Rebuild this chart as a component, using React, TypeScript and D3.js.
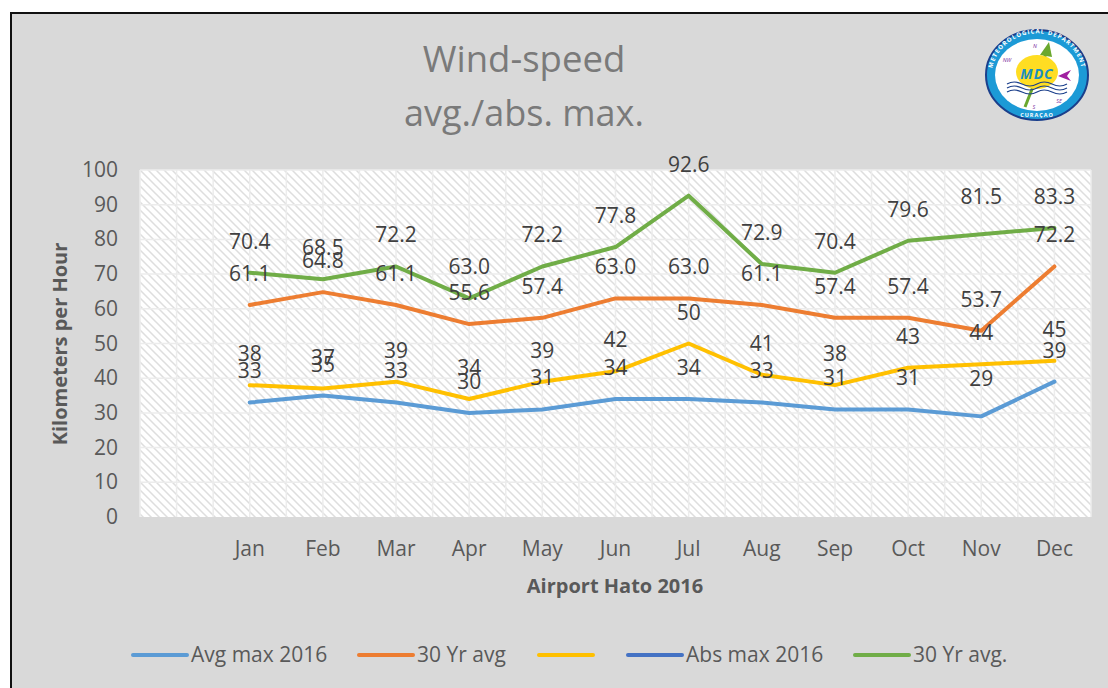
import React from "react";
import * as d3 from "d3";

const months = ["Jan", "Feb", "Mar", "Apr", "May", "Jun", "Jul", "Aug", "Sep", "Oct", "Nov", "Dec"];
const slots = ["", ...months];
const avgMax2016 = [33, 35, 33, 30, 31, 34, 34, 33, 31, 31, 29, 39];
const avgMax30Yr = [61.1, 64.8, 61.1, 55.6, 57.4, 63.0, 63.0, 61.1, 57.4, 57.4, 53.7, 72.2];
const absMax2016 = [38, 37, 39, 34, 39, 42, 50, 41, 38, 43, 44, 45];
const absMax30Yr = [70.4, 68.5, 72.2, 63.0, 72.2, 77.8, 92.6, 72.9, 70.4, 79.6, 81.5, 83.3];
const yTicks = [0, 10, 20, 30, 40, 50, 60, 70, 80, 90, 100];

const seriesList = [
  { values: avgMax2016, color: "#5b9bd5", digits: 0, nudge: { 10: -6 } as Record<number, number> },
  { values: avgMax30Yr, color: "#ed7d31", digits: 1, nudge: {} as Record<number, number> },
  { values: absMax2016, color: "#ffc000", digits: 0, nudge: {} as Record<number, number> },
  { values: absMax30Yr, color: "#70ad47", digits: 1, nudge: { 10: -6 } as Record<number, number> },
];
const legendItems = [
  { label: "Avg max 2016", color: "#5b9bd5", x: 132 },
  { label: "30 Yr avg", color: "#ed7d31", x: 358 },
  { label: "", color: "#ffc000", x: 538 },
  { label: "Abs max 2016", color: "#4472c4", x: 627 },
  { label: "30 Yr avg.", color: "#70ad47", x: 854 },
];

const FONT = "'Open Sans', sans-serif";
const plot = { left: 140, right: 1091, top: 170, bottom: 517 };

export default function App() {
  const x = d3.scaleBand<string>().domain(slots).range([plot.left, plot.right]);
  const y = d3.scaleLinear().domain([0, 100]).range([plot.bottom, plot.top]);
  const cx = (i: number) => (x(months[i]) as number) + x.bandwidth() / 2;
  const line = d3
    .line<number>()
    .x((_, i) => cx(i))
    .y((d) => y(d));
  const vLines = d3.range(0, 27).map((k) => plot.left + (k * x.bandwidth()) / 2);

  return (
    <svg
      width={1108}
      height={688}
      style={{ position: "absolute", left: 0, top: 0, display: "block" }}
      fontFamily={FONT}
    >
      <defs>
        <pattern id="hatch" width={8} height={8} patternUnits="userSpaceOnUse" patternTransform="translate(140 170)">
          <rect width={8} height={8} fill="#fff" />
          <path d="M-2,-2 L10,10 M-2,6 L2,10 M6,-2 L10,2" stroke="#dedede" strokeWidth={1.5} />
        </pattern>
      </defs>
      <rect width={1108} height={688} fill="#fff" />
      <rect x={11} y={13} width={1097} height={675} fill="#d9d9d9" />
      <path d="M11,688 V13 H1108" fill="none" stroke="#111" strokeWidth={2} />

      <text x={524} y={72} textAnchor="middle" fontSize={36.5} fill="#7a7a7a">Wind-speed</text>
      <text x={524} y={126} textAnchor="middle" fontSize={36} fill="#7a7a7a">avg./abs. max.</text>

      <g transform="translate(1037 75)">
        <ellipse rx={51} ry={45} fill="#1c9ad6" stroke="#1b3f8b" strokeWidth={2} />
        <ellipse rx={42} ry={36} fill="#fff" />
        <path d="M-12,32 L10,-24" stroke="#6aa82e" strokeWidth={3} />
        <path d="M12,-33 L3,-20 L15,-18 Z" fill="#6aa82e" />
        <ellipse cx={0} cy={-3} rx={21} ry={17} fill="#ffdd22" />
        <path d="M21,1 L34,-5 L30,1 L34,6 Z" fill="#a020a0" />
        <text x={0} y={4} textAnchor="middle" fontSize={14} fontWeight={700} fontStyle="italic" fill="#1a8fc0" letterSpacing={1}>MDC</text>
        <path d="M-30,9 q7,-4 15,0 t15,0 t15,0 t15,0 M-30,13 q7,-4 15,0 t15,0 t15,0 t15,0 M-30,17 q7,-4 15,0 t15,0 t15,0 t15,0" fill="none" stroke="#1b3f8b" strokeWidth={1.2} />
        <path id="logoArc" d="M-44,8 A45,41 0 1 1 44,8" fill="none" />
        <text fontSize={6} fontWeight={700} fill="#fff" letterSpacing={1}>
          <textPath href="#logoArc" startOffset="50%" textAnchor="middle">METEOROLOGICAL DEPARTMENT</textPath>
        </text>
        <text x={0} y={42} textAnchor="middle" fontSize={5.5} fontWeight={700} fill="#fff" letterSpacing={1}>CURAÇAO</text>
        <text x={-2} y={-27} textAnchor="middle" fontSize={5.5} fontStyle="italic" fill="#7a2fa0">N</text>
        <text x={-30} y={-13} textAnchor="middle" fontSize={5.5} fontStyle="italic" fill="#7a2fa0">NW</text>
        <text x={22} y={28} textAnchor="middle" fontSize={5.5} fontStyle="italic" fill="#7a2fa0">SE</text>
        <text x={-3} y={34} textAnchor="middle" fontSize={5.5} fontStyle="italic" fill="#7a2fa0">S</text>
      </g>

      <rect x={plot.left} y={plot.top} width={plot.right - plot.left} height={plot.bottom - plot.top} fill="url(#hatch)" />
      {yTicks.slice(1).map((t) => (
        <line key={t} x1={plot.left} x2={plot.right} y1={y(t)} y2={y(t)} stroke="#ececec" strokeWidth={1.5} />
      ))}
      {vLines.map((v) => (
        <line key={v} x1={v} x2={v} y1={plot.top} y2={plot.bottom} stroke="#ececec" strokeWidth={1.5} />
      ))}

      {yTicks.map((t) => (
        <text key={t} x={118} y={y(t) + 7} textAnchor="end" fontSize={21} fill="#595959">{t}</text>
      ))}
      {months.map((m, i) => (
        <text key={m} x={cx(i)} y={556} textAnchor="middle" fontSize={21} fill="#595959">{m}</text>
      ))}
      <text x={615} y={593} textAnchor="middle" fontSize={20} fontWeight={700} fill="#595959">Airport Hato 2016</text>
      <text transform="translate(67 344) rotate(-90)" textAnchor="middle" fontSize={20} fontWeight={700} fill="#595959">Kilometers per Hour</text>

      {seriesList.map((s) => (
        <path key={s.color} d={line(s.values) as string} fill="none" stroke={s.color} strokeWidth={4} strokeLinecap="round" strokeLinejoin="round" />
      ))}
      {seriesList.map((s) =>
        s.values.map((v, i) => (
          <text key={s.color + i} x={cx(i)} y={y(v) - 24 + (s.nudge[i] ?? 0)} textAnchor="middle" fontSize={21} fill="#404040">
            {v.toFixed(s.digits)}
          </text>
        ))
      )}

      {legendItems.map((l) => (
        <g key={l.x}>
          <line x1={l.x + 1} x2={l.x + 55} y1={655} y2={655} stroke={l.color} strokeWidth={4} strokeLinecap="round" />
          {l.label && <text x={l.x + 59} y={662} fontSize={21} fill="#595959">{l.label}</text>}
        </g>
      ))}
    </svg>
  );
}
